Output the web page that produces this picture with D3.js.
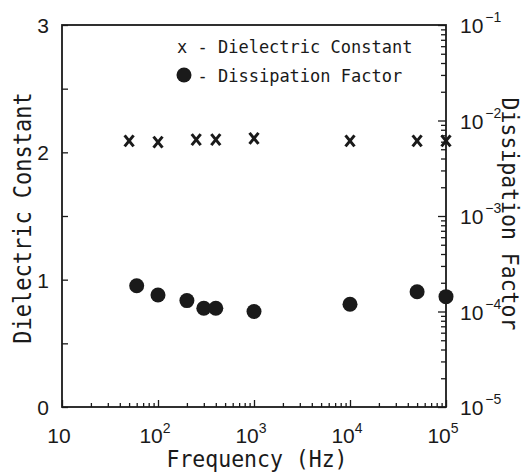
<!DOCTYPE html>
<html>
<head>
<meta charset="utf-8">
<script src="https://cdn.jsdelivr.net/npm/d3@7"></script>
<style>
  body { margin: 0; background: #fff; }
  .mono { font-family: "DejaVu Sans Mono", monospace; fill: #1a1a1a; }
  .num { font-family: "Liberation Sans", Arial, sans-serif; fill: #1a1a1a; }
</style>
</head>
<body>
<svg id="chart" width="524" height="476"></svg>
<script>
// Dielectric constant measured at each frequency (Hz)
const freqDielectric = [50, 100, 250, 400, 1000, 10000, 50000, 100000];
const dielectricConstant = [2.09, 2.08, 2.10, 2.10, 2.11, 2.09, 2.09, 2.09];

// Dissipation factor measured at each frequency (Hz)
const freqDissipation = [60, 100, 200, 300, 400, 1000, 10000, 50000, 100000];
const dissipationFactor = [1.86e-4, 1.49e-4, 1.30e-4, 1.08e-4, 1.08e-4, 1.00e-4, 1.19e-4, 1.61e-4, 1.43e-4];

// Axis tick labels
const freqExponents = [1, 2, 3, 4, 5];
const dielectricTicks = [0, 1, 2, 3];
const dissipationExponents = [-1, -2, -3, -4, -5];

const svg = d3.select("#chart");
const ink = "#1a1a1a";

const plot = { left: 62, right: 446, top: 25, bottom: 407 };

const x = d3.scaleLog().domain([10, 1e5]).range([plot.left, plot.right]);
const yLeft = d3.scaleLinear().domain([0, 3]).range([plot.bottom, plot.top]);
const yRight = d3.scaleLog().domain([1e-5, 1e-1]).range([plot.bottom, plot.top]);

// Tick mark helper: draws axis ticks only (no domain line, no labels)
function tickAxis(axis, transform) {
  const g = svg.append("g").attr("transform", transform).call(axis);
  g.select(".domain").remove();
  g.selectAll("text").remove();
  g.selectAll("line").attr("stroke", ink).attr("stroke-width", 1.3);
  return g;
}

const isDecade = v => Math.abs(Math.log10(v) - Math.round(Math.log10(v))) < 1e-9;

// Bottom (frequency) ticks pointing into the plot
const xAll = x.ticks();
tickAxis(d3.axisBottom(x).tickValues(xAll.filter(v => !isDecade(v))).tickSize(-4).tickFormat(""),
  `translate(0,${plot.bottom})`);
tickAxis(d3.axisBottom(x).tickValues(xAll.filter(isDecade)).tickSize(-7).tickFormat(""),
  `translate(0,${plot.bottom})`);

// Left (dielectric constant) ticks every 0.5
tickAxis(d3.axisLeft(yLeft).tickValues(d3.range(0, 3.01, 0.5)).tickSize(-6).tickFormat(""),
  `translate(${plot.left},0)`);

// Right (dissipation factor) log ticks
const yAll = yRight.ticks();
tickAxis(d3.axisRight(yRight).tickValues(yAll.filter(v => !isDecade(v))).tickSize(-5).tickFormat(""),
  `translate(${plot.right},0)`);
tickAxis(d3.axisRight(yRight).tickValues(yAll.filter(isDecade)).tickSize(-8).tickFormat(""),
  `translate(${plot.right},0)`);

// Plot frame
svg.append("rect")
  .attr("x", plot.left).attr("y", plot.top)
  .attr("width", plot.right - plot.left).attr("height", plot.bottom - plot.top)
  .attr("fill", "none").attr("stroke", ink).attr("stroke-width", 1.8);

// Frequency tick labels: 10, 10^2 ... 10^5
freqExponents.forEach(e => {
  const t = svg.append("text").attr("class", "num")
    .attr("x", x(Math.pow(10, e)) - 3).attr("y", plot.bottom + 36)
    .attr("text-anchor", "middle").attr("font-size", 21);
  t.append("tspan").text("10");
  if (e !== 1) {
    t.append("tspan").attr("dy", -10).attr("font-size", 14).text(e);
  }
});

// Dielectric constant labels
dielectricTicks.forEach(v => {
  svg.append("text").attr("class", "num")
    .attr("x", 43).attr("y", yLeft(v) + 8)
    .attr("text-anchor", "middle").attr("font-size", 21)
    .text(v);
});

// Dissipation factor labels: 10^-1 ... 10^-5
dissipationExponents.forEach(e => {
  const t = svg.append("text").attr("class", "num")
    .attr("x", 460).attr("y", yRight(Math.pow(10, e)) + 8)
    .attr("font-size", 21);
  t.append("tspan").text("10");
  t.append("tspan").attr("dy", -11).attr("dx", 2).attr("font-size", 14).text("\u2212" + Math.abs(e));
});

// Axis titles
svg.append("text").attr("class", "mono")
  .attr("transform", "translate(31,218) rotate(-90) scale(1,1.12)")
  .attr("text-anchor", "middle").attr("font-size", 22)
  .text("Dielectric Constant");

svg.append("text").attr("class", "mono")
  .attr("transform", "translate(502,214) rotate(90) scale(1,1.08)")
  .attr("text-anchor", "middle").attr("font-size", 21.5)
  .text("Dissipation Factor");

svg.append("text").attr("class", "mono")
  .attr("transform", "translate(257,467) scale(1,1.08)")
  .attr("text-anchor", "middle").attr("font-size", 21.5)
  .text("Frequency (Hz)");

// Legend
svg.append("text").attr("class", "mono")
  .attr("x", 177).attr("y", 53).attr("font-size", 17)
  .text("x - Dielectric Constant");
svg.append("circle").attr("cx", 184).attr("cy", 75).attr("r", 7.5).attr("fill", ink);
svg.append("text").attr("class", "mono")
  .attr("x", 197.5).attr("y", 82).attr("font-size", 17)
  .text("- Dissipation Factor");

// Dielectric constant markers (bold crosses)
const dcData = freqDielectric.map((f, i) => ({ f, v: dielectricConstant[i] }));
const crosses = svg.append("g").selectAll("g").data(dcData).join("g")
  .attr("transform", d => `translate(${x(d.f)},${yLeft(d.v)})`);
crosses.append("path")
  .attr("d", "M-4.5,-5.5L4.5,5.5M4.5,-5.5L-4.5,5.5")
  .attr("stroke", ink).attr("stroke-width", 3).attr("fill", "none");

// Dissipation factor markers (filled dots)
const dfData = freqDissipation.map((f, i) => ({ f, v: dissipationFactor[i] }));
svg.append("g").selectAll("circle").data(dfData).join("circle")
  .attr("cx", d => x(d.f)).attr("cy", d => yRight(d.v))
  .attr("r", 7.5).attr("fill", ink);
</script>
</body>
</html>
